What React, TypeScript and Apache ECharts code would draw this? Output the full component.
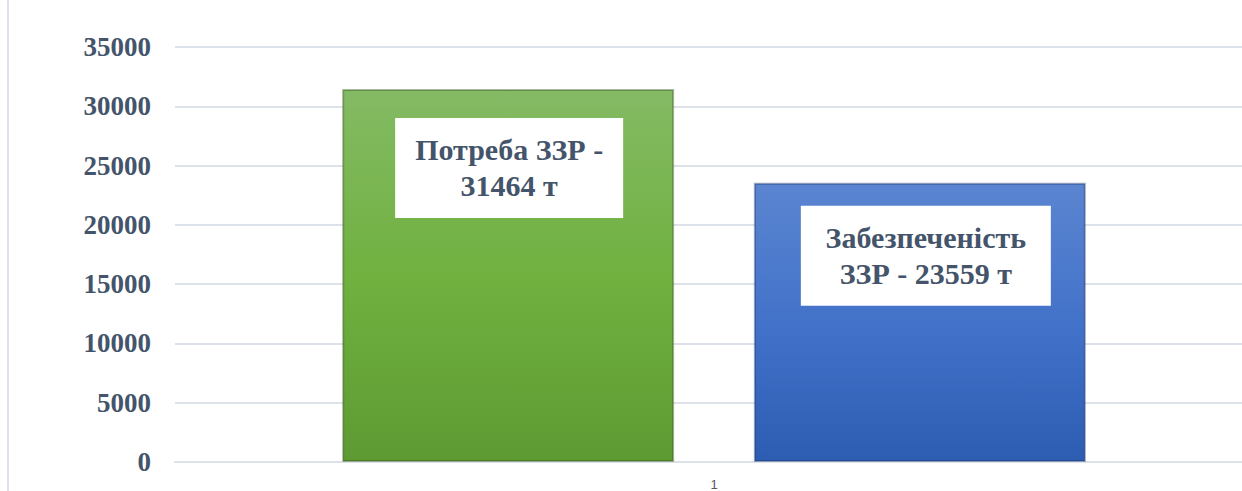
import React, { useEffect, useRef } from "react";
import * as echarts from "echarts";

const categories = ["1"];
const demandName = "Потреба ЗЗР";
const supplyName = "Забезпеченість ЗЗР";
const demandValues = [31464];
const supplyValues = [23559];
const yMin = 0;
const yMax = 35000;
const yInterval = 5000;

const TEXT = "#44546A";
const GRID = "#dde2ea";
const SERIF = "'Times New Roman', Times, serif";

export default function App() {
  const ref = useRef<HTMLDivElement>(null);

  useEffect(() => {
    if (!ref.current) return;
    const chart = echarts.init(ref.current, null, { renderer: "svg" });
    const richStyle = {
      t: {
        color: TEXT,
        fontFamily: SERIF,
        fontWeight: "bold",
        fontSize: 30,
        lineHeight: 36,
        align: "center",
      },
    };
    chart.setOption({
      animation: false,
      backgroundColor: "#ffffff",
      graphic: [
        {
          type: "line",
          shape: { x1: 8, y1: 0, x2: 8, y2: 491 },
          style: { stroke: GRID, lineWidth: 2 },
        },
      ],
      grid: { left: 175, right: 0, top: 47, bottom: 29, containLabel: false },
      xAxis: {
        type: "category",
        data: categories,
        axisLine: { show: true, lineStyle: { color: GRID, width: 2 } },
        axisTick: { show: false },
        axisLabel: {
          color: "#595959",
          fontSize: 13,
          fontFamily: "'Liberation Sans', Arial, sans-serif",
          margin: 16,
        },
      },
      yAxis: {
        type: "value",
        min: yMin,
        max: yMax,
        interval: yInterval,
        axisLine: { show: false },
        axisTick: { show: false },
        splitLine: { lineStyle: { color: GRID, width: 2 } },
        axisLabel: {
          color: TEXT,
          fontSize: 27,
          fontWeight: "bold",
          fontFamily: SERIF,
          margin: 24,
          formatter: (v: number) => String(v),
        },
      },
      series: [
        {
          name: demandName,
          type: "bar",
          data: demandValues,
          barWidth: 332,
          barGap: "24%",
          itemStyle: {
            color: new echarts.graphic.LinearGradient(0, 0, 0, 1, [
              { offset: 0, color: "#84ba64" },
              { offset: 0.5, color: "#70b140" },
              { offset: 1, color: "#5e9a32" },
            ]),
            borderColor: "rgba(45,80,20,0.4)",
            borderWidth: 2,
          },
          label: {
            show: true,
            position: "insideTop",
            backgroundColor: "#ffffff",
            distance: 29,
            offset: [1, 0],
            width: 228,
            padding: [14, 0],
            align: "center",
            fontFamily: SERIF,
            fontWeight: "bold",
            fontSize: 30,
            lineHeight: 36,
            color: TEXT,
            rich: richStyle,
            formatter: (p: any) => `{t|${demandName} -}\n{t|${p.value} т}`,
          },
        },
        {
          name: supplyName,
          type: "bar",
          data: supplyValues,
          barWidth: 332,
          itemStyle: {
            color: new echarts.graphic.LinearGradient(0, 0, 0, 1, [
              { offset: 0, color: "#5b85d1" },
              { offset: 0.5, color: "#4272c9" },
              { offset: 1, color: "#2c5db3" },
            ]),
            borderColor: "rgba(25,45,100,0.4)",
            borderWidth: 2,
          },
          label: {
            show: true,
            position: "insideTop",
            backgroundColor: "#ffffff",
            distance: 23,
            offset: [6, 0],
            width: 250,
            padding: [14, 0],
            align: "center",
            fontFamily: SERIF,
            fontWeight: "bold",
            fontSize: 30,
            lineHeight: 36,
            color: TEXT,
            rich: richStyle,
            formatter: (p: any) => `{t|Забезпеченість}\n{t|ЗЗР - ${p.value} т}`,
          },
        },
      ],
    });
    return () => chart.dispose();
  }, []);

  return (
    <div
      style={{
        position: "absolute",
        left: 0,
        top: 0,
        width: 1242,
        height: 491,
        overflow: "hidden",
        background: "#fff",
      }}
    >
      <div ref={ref} style={{ width: 1253, height: 491 }} />
    </div>
  );
}
